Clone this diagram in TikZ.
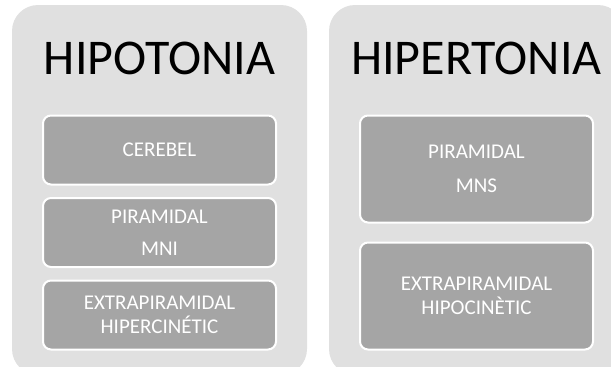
\documentclass[tikz,border=0pt]{standalone}
\usepackage{fontspec}
\setmainfont{Carlito}
\definecolor{panelgray}{HTML}{E0E0E0}
\definecolor{boxgray}{HTML}{A5A5A5}
\begin{document}
\begin{tikzpicture}[x=1pt,y=-1pt,
  panel/.style={fill=panelgray, draw=none, rounded corners=26pt},
  title/.style={anchor=base, inner sep=0pt, font=\fontsize{50}{60}\selectfont, text=black},
  inbox/.style={rectangle, rounded corners=8pt, fill=boxgray, draw=white, line width=2pt,
    inner sep=0pt, align=center, text=white, font=\fontsize{21}{24}\selectfont},
  narrow/.style={minimum width=233pt}]
\useasboundingbox (0,0) rectangle (611,367);
\clip (0,0) rectangle (611,367);
% panels
\path[panel] (12,5) rectangle (307,375);
\path[panel] (329,5) rectangle (624,375);
% titles
\node[title] (t1) at (159.5,74) {HIPOTONIA};
\node[title] (t2) at (476.5,74) {HIPERTONIA};
% left boxes
\node[inbox, narrow, minimum height=69pt] (a1) at (159.5,150) {CEREBEL};
\node[inbox, narrow, minimum height=69pt] (a2) at (159.5,232.5) {PIRAMIDAL\\[8pt]MNI};
\node[inbox, narrow, minimum height=69pt] (a3) at (159.5,315) {EXTRAPIRAMIDAL\\HIPERCINÉTIC};
% right boxes
\node[inbox, narrow, minimum height=107pt] (b1) at (476.5,169) {PIRAMIDAL\\[10pt]MNS};
\node[inbox, narrow, minimum height=107pt] (b2) at (476.5,296) {EXTRAPIRAMIDAL\\HIPOCINÈTIC};
\end{tikzpicture}
\end{document}
